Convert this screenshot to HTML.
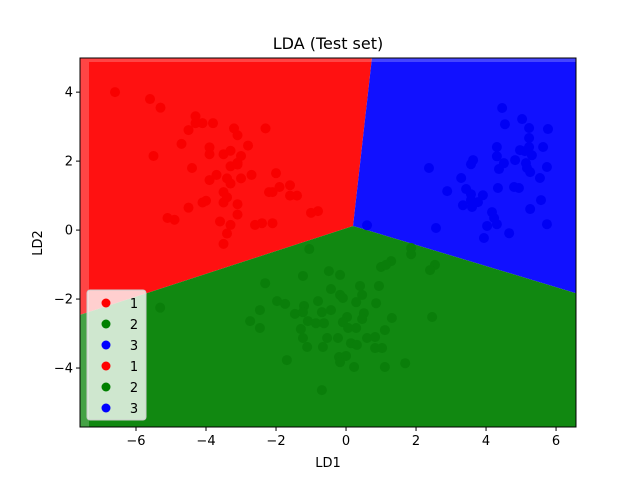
<!DOCTYPE html>
<html><head><meta charset="utf-8"><style>
body{margin:0;background:#fff;}
svg text{font-family:"DejaVu Sans","Liberation Sans",sans-serif;}
</style></head><body>
<svg id="chart" width="640" height="480" xmlns="http://www.w3.org/2000/svg">
<rect width="640" height="480" fill="#fff"/>
<g id="plot"></g>
<text x="328" y="49" font-size="16" text-anchor="middle">LDA (Test set)</text>
<text x="328" y="467" font-size="13" text-anchor="middle">LD1</text>
<text x="42" y="243" font-size="13" text-anchor="middle" transform="rotate(-90 42 243)">LD2</text>
</svg>
<script>
const xTicks=[-6,-4,-2,0,2,4,6];
const yTicks=[-4,-2,0,2,4];
const xDomain=[-7.6,6.57];
const yDomain=[-5.71,4.99];
const boundaryCenter=[0.2,0.12];
const boundaryTop=[0.74,4.99];
const boundaryLeft=[-7.6,-2.46];
const boundaryRight=[6.57,-1.83];
const redX=[-6.6,-5.6,-5.3,-4.3,-4.1,-3.8,-4.3,-4.5,-3.2,-3.1,-2.3,-4.7,-2.8,-3.9,-3.3,-3.5,-3.9,-3.0,-3.1,-3.1,-3.3,-4.4,-2.0,-2.7,-3.7,-3.4,-3.0,-1.6,-3.9,-3.3,-3.5,-3.4,-1.9,-2.2,-1.6,-2.1,-1.4,-1.0,-0.8,-2.4,-3.5,-4.0,-3.1,-4.5,-5.1,-4.9,-3.6,-4.1,-5.5,-3.3,-3.4,-2.6,-2.1,-3.1,-3.5];
const redY=[4.0,3.8,3.55,3.3,3.1,3.1,3.1,2.9,2.95,2.75,2.95,2.5,2.45,2.4,2.3,2.2,2.2,2.15,1.95,1.9,1.85,1.8,1.65,1.6,1.6,1.5,1.5,1.3,1.45,1.35,1.1,0.95,1.25,1.1,1.0,1.1,1.0,0.5,0.55,0.2,0.8,0.85,0.75,0.65,0.35,0.3,0.25,0.8,2.15,0.15,-0.1,0.15,0.2,0.45,-0.4];
const greenX=[-1.05,-5.31,-2.31,-1.23,-0.49,-0.17,1.29,1.0,1.14,1.86,1.86,2.54,2.4,0.4,0.94,-0.43,-0.17,-0.09,0.46,0.29,0.86,-1.97,-1.74,-0.8,-1.2,-2.46,-1.46,-1.23,-0.69,-0.43,0.51,0.46,0.03,-0.09,1.31,2.46,-2.74,-2.46,-1.09,-0.86,-0.63,-1.29,0.06,0.29,1.11,-1.23,-0.54,-0.23,0.6,0.83,0.14,0.31,-1.11,-0.66,0.83,1.03,-1.69,-0.2,0.0,-0.17,0.23,1.11,1.69,-0.69];
const greenY=[-0.55,-2.25,-1.54,-1.33,-1.19,-1.3,-0.9,-1.07,-1.01,-0.52,-0.7,-1.01,-1.16,-1.62,-1.62,-1.71,-1.88,-1.97,-1.88,-2.09,-2.12,-2.06,-2.14,-2.06,-2.2,-2.32,-2.43,-2.38,-2.38,-2.32,-2.41,-2.58,-2.52,-2.67,-2.55,-2.52,-2.64,-2.84,-2.64,-2.7,-2.7,-2.87,-2.84,-2.84,-2.9,-3.13,-3.13,-3.13,-3.13,-3.1,-3.28,-3.33,-3.39,-3.39,-3.42,-3.42,-3.77,-3.68,-3.65,-3.83,-3.97,-3.97,-3.86,-4.64];
const blueX=[4.46,5.03,4.54,5.23,5.77,5.23,4.31,4.97,5.11,5.23,5.63,4.31,5.31,4.83,3.63,3.57,4.51,5.14,4.37,5.17,5.26,5.74,2.37,3.29,5.54,2.89,3.43,3.57,3.91,4.34,4.8,4.94,3.57,3.77,3.34,3.6,5.57,5.26,4.17,4.23,4.03,4.31,5.74,2.57,3.94,4.66,0.6];
const blueY=[3.54,3.22,3.07,2.96,2.93,2.67,2.41,2.32,2.29,2.41,2.41,2.14,2.17,2.03,2.03,1.91,1.94,1.94,1.77,1.8,1.68,1.83,1.8,1.51,1.51,1.13,1.19,1.04,1.01,1.22,1.25,1.22,0.87,0.81,0.72,0.67,0.87,0.61,0.52,0.35,0.12,0.17,0.17,0.06,-0.23,-0.09,0.14];
const X0=80,X1=576,Y0=58,Y1=427;
function sx(v){return X0+(v-xDomain[0])/(xDomain[1]-xDomain[0])*(X1-X0);}
function sy(v){return Y1-(v-yDomain[0])/(yDomain[1]-yDomain[0])*(Y1-Y0);}
const NS='http://www.w3.org/2000/svg';
const plot=document.getElementById('plot');
function mk(tag,attrs,parent){const e=document.createElementNS(NS,tag);for(const k in attrs)e.setAttribute(k,attrs[k]);(parent||plot).appendChild(e);return e;}
function pt(p){return sx(p[0])+','+sy(p[1]);}
const c=boundaryCenter;
let r=mk('polygon',{points:[pt([xDomain[0],yDomain[1]]),pt(boundaryTop),pt(c),pt(boundaryLeft)].join(' '),fill:'#ff1111'});


let b=mk('polygon',{points:[pt(boundaryTop),pt([xDomain[1],yDomain[1]]),pt(boundaryRight),pt(c)].join(' '),fill:'#1111ff'});


let g=mk('polygon',{points:[pt(boundaryLeft),pt(c),pt(boundaryRight),pt([xDomain[1],yDomain[0]]),pt([xDomain[0],yDomain[0]])].join(' '),fill:'#118811'});


let s1=mk('rect',{x:X0,y:Y0,width:9,height:Y1-Y0,fill:'#fff',opacity:0.22});


let s2=mk('rect',{x:X0+9,y:Y0,width:X1-X0-9,height:4,fill:'#fff',opacity:0.22});


function scatter(xs,ys,col,name){for(let i=0;i<xs.length;i++){const e=mk('circle',{cx:sx(xs[i]),cy:sy(ys[i]),r:5,fill:col});

}}
scatter(redX,redY,'#f80000','point-class-1');
scatter(greenX,greenY,'#0a7e0a','point-class-2');
scatter(blueX,blueY,'#0000f4','point-class-3');
let fr=mk('rect',{x:X0,y:Y0,width:X1-X0,height:Y1-Y0,fill:'none',stroke:'#000','stroke-width':1});


xTicks.forEach(t=>{const x=sx(t);
const l=mk('line',{x1:x,x2:x,y1:Y1,y2:Y1+4,stroke:'#000'});


const tx=mk('text',{x:x,y:Y1+18,'font-size':13,'text-anchor':'middle'});tx.textContent=(t<0?'\u2212'+(-t):t);

});
yTicks.forEach(t=>{const y=sy(t);
const l=mk('line',{x1:X0-4,x2:X0,y1:y,y2:y,stroke:'#000'});


const tx=mk('text',{x:X0-7,y:y+4.5,'font-size':13,'text-anchor':'end'});tx.textContent=(t<0?'\u2212'+(-t):t);

});
const legendLabels=['1','2','3','1','2','3'];
const legendColors=['#ff0000','#008000','#0000ff','#ff0000','#008000','#0000ff'];
const lg=mk('g',{});


mk('rect',{x:87,y:290,width:59,height:130,rx:3,fill:'#fff','fill-opacity':0.8,stroke:'#ccc','stroke-width':1},lg);
legendLabels.forEach((lab,i)=>{const y=303+i*21;
const ent=mk('g',{},lg);


mk('circle',{cx:106,cy:y,r:4.5,fill:legendColors[i]},ent);
const t=mk('text',{x:134,y:y+5,'font-size':13,'text-anchor':'middle'},ent);t.textContent=lab;});
</script>
</body></html>
